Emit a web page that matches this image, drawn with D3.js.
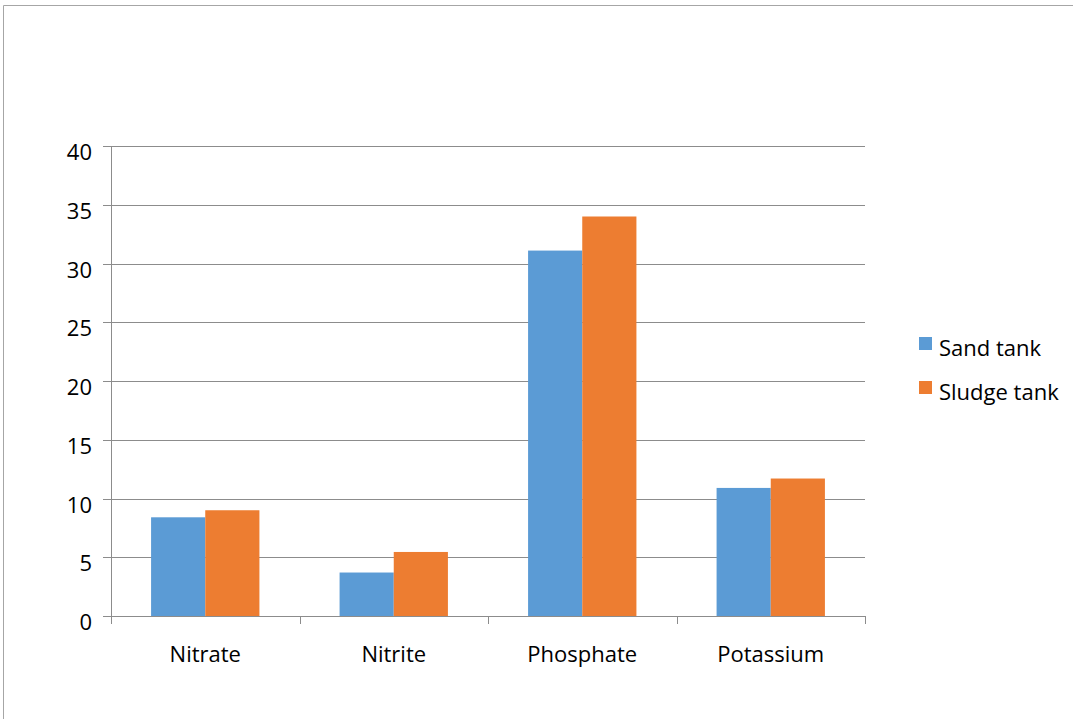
<!DOCTYPE html>
<html>
<head>
<meta charset="utf-8">
<script src="https://cdn.jsdelivr.net/npm/d3@7"></script>
<style>
  body { margin: 0; background: #fff; }
  svg { display: block; font-family: "Open Sans", Lato, sans-serif; }
</style>
</head>
<body>
<svg id="drawing_region"></svg>
<script>
// data
const categories = ['Nitrate', 'Nitrite', 'Phosphate', 'Potassium'];
const seriesNames = ['Sand tank', 'Sludge tank'];
const sandValues = [8.4, 3.7, 31.1, 10.9];
const sludgeValues = [9.0, 5.45, 34.0, 11.7];
const yTicks = [0, 5, 10, 15, 20, 25, 30, 35, 40];
const colors = ['#5b9bd5', '#ed7d31'];

const width = 1073, height = 719;
const margin = {top: 146, left: 111, right: 208, bottom: 103};
const innerW = width - margin.left - margin.right;
const innerH = height - margin.top - margin.bottom;
const fontSize = '22px';

const svg = d3.select('#drawing_region')
    .attr('width', width)
    .attr('height', height);

// outer frame (top and left edges only visible)
svg.append('line').attr('x1', 3.5).attr('x2', width).attr('y1', 5.5).attr('y2', 5.5)
    .attr('stroke', '#a6a6a6');
svg.append('line').attr('x1', 3.5).attr('x2', 3.5).attr('y1', 5.5).attr('y2', height)
    .attr('stroke', '#a6a6a6');

const chart = svg.append('g')
    .attr('transform', `translate(${margin.left}, ${margin.top})`);

const xscale = d3.scaleBand()
    .domain(categories)
    .range([0, innerW]);

const inner = d3.scaleBand()
    .domain(seriesNames)
    .range([0, xscale.bandwidth()])
    .paddingOuter(0.74);

const yscale = d3.scaleLinear()
    .domain([0, 40])
    .range([innerH, 0]);

// gridlines
chart.append('g')
    .selectAll('line')
    .data(yTicks)
    .join('line')
    .attr('x1', -8)
    .attr('x2', innerW)
    .attr('y1', d => Math.round(yscale(d)) + 0.5)
    .attr('y2', d => Math.round(yscale(d)) + 0.5)
    .attr('stroke', '#8c8c8c')
    .attr('stroke-width', 1);

// y axis line
chart.append('line')
    .attr('x1', 0.5).attr('x2', 0.5)
    .attr('y1', 0).attr('y2', innerH + 8)
    .attr('stroke', '#8c8c8c');

// y labels
chart.append('g')
    .selectAll('text')
    .data(yTicks)
    .join('text')
    .attr('x', -19)
    .attr('y', d => yscale(d) + 14)
    .attr('text-anchor', 'end')
    .style('font-size', fontSize)
    .attr('fill', '#000')
    .text(d => d);

// bars
const rows = categories.map((c, i) => ({cat: c, vals: [sandValues[i], sludgeValues[i]]}));
const groups = chart.selectAll('.grp')
    .data(rows)
    .join('g')
    .attr('transform', d => `translate(${xscale(d.cat)}, 0)`);

groups.selectAll('rect')
    .data(d => d.vals.map((v, j) => ({name: seriesNames[j], v: v, j: j})))
    .join('rect')
    .attr('x', d => inner(d.name))
    .attr('width', inner.bandwidth())
    .attr('y', d => yscale(d.v))
    .attr('height', d => innerH - yscale(d.v))
    .attr('fill', d => colors[d.j]);

// x axis baseline and category ticks
chart.append('line')
    .attr('x1', -8).attr('x2', innerW)
    .attr('y1', Math.round(innerH) + 0.5).attr('y2', Math.round(innerH) + 0.5)
    .attr('stroke', '#8c8c8c');

const bounds = categories.map(c => xscale(c)).concat([innerW]);
chart.append('g')
    .selectAll('line')
    .data(bounds)
    .join('line')
    .attr('x1', d => Math.round(d) + 0.5)
    .attr('x2', d => Math.round(d) + 0.5)
    .attr('y1', innerH)
    .attr('y2', innerH + 8)
    .attr('stroke', '#8c8c8c');

chart.append('g')
    .selectAll('text')
    .data(categories)
    .join('text')
    .attr('x', d => xscale(d) + xscale.bandwidth() / 2)
    .attr('y', innerH + 46)
    .attr('text-anchor', 'middle')
    .style('font-size', fontSize)
    .text(d => d);

// legend
const legend = svg.append('g')
    .attr('transform', 'translate(919, 337)');
legend.selectAll('rect')
    .data(seriesNames)
    .join('rect')
    .attr('x', 0)
    .attr('y', (d, i) => i * 44)
    .attr('width', 13)
    .attr('height', 13)
    .attr('fill', (d, i) => colors[i]);
legend.selectAll('text')
    .data(seriesNames)
    .join('text')
    .attr('x', 20)
    .attr('y', (d, i) => i * 44 + 19)
    .style('font-size', fontSize)
    .text(d => d);
</script>
</body>
</html>
